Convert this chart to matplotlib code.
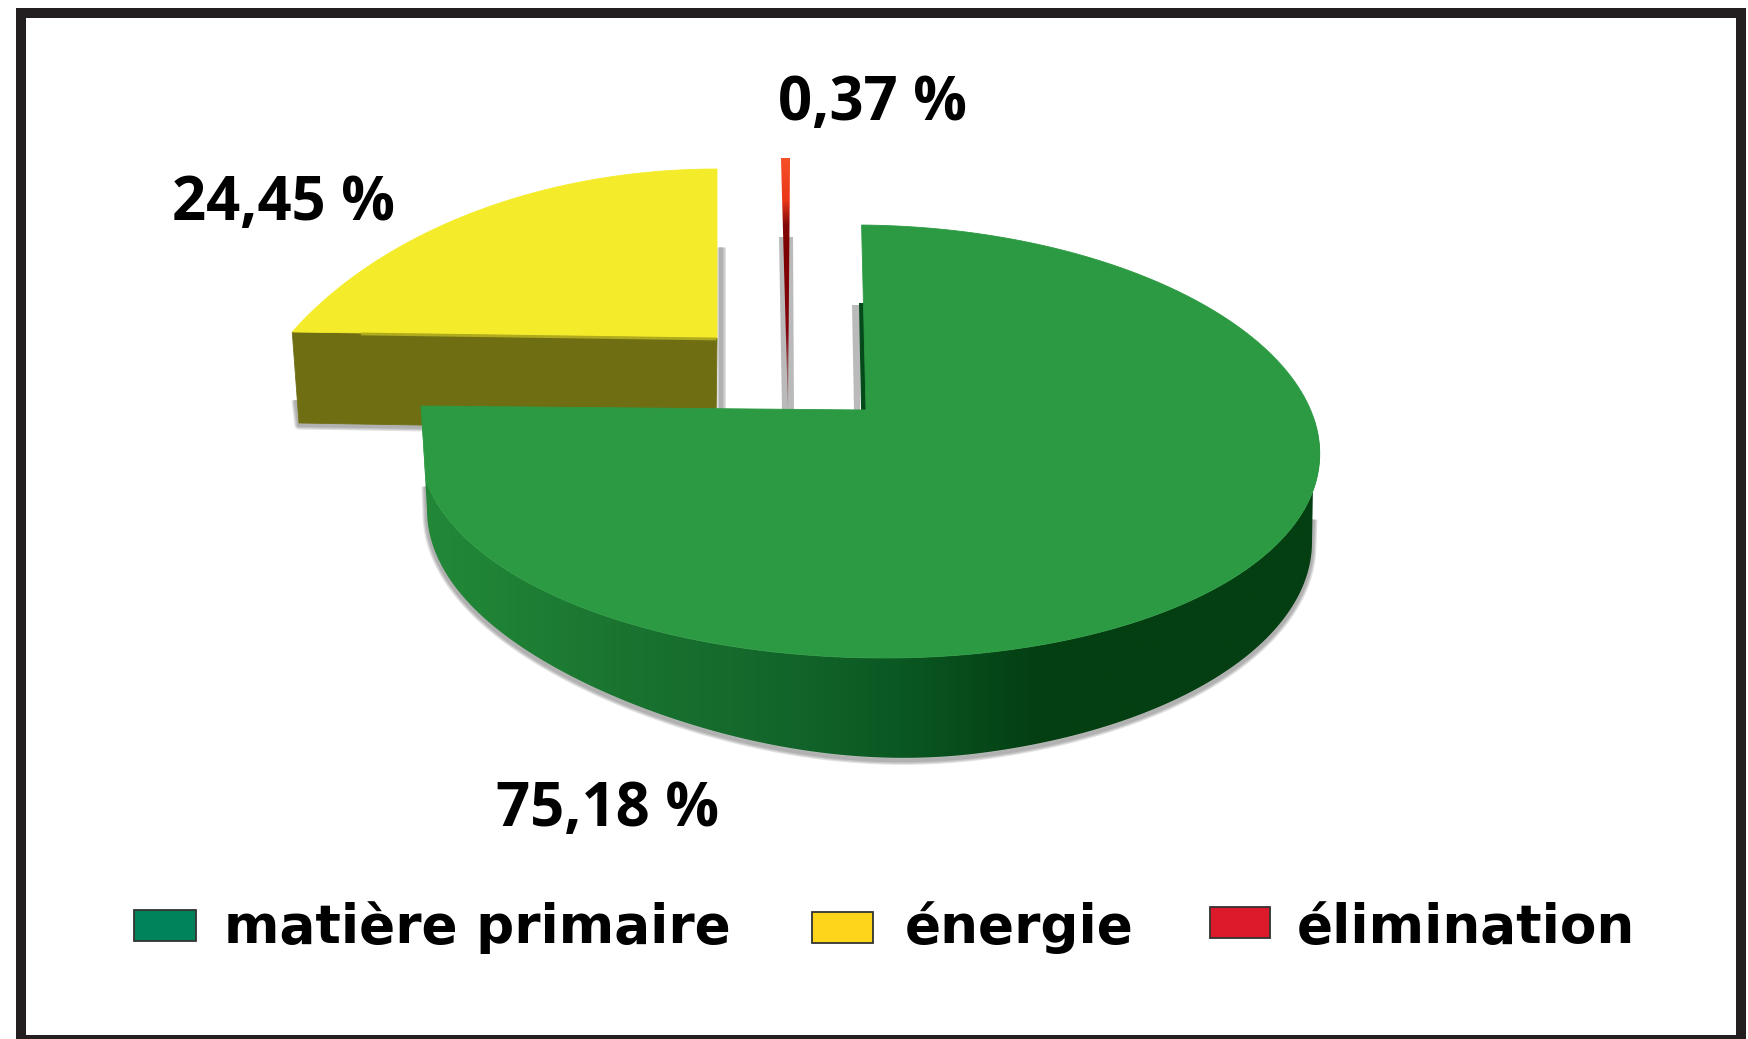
import numpy as np
import matplotlib
matplotlib.use("Agg")
import matplotlib.pyplot as plt
from matplotlib.patches import Polygon, Rectangle

categories = ["matière primaire", "énergie", "élimination"]
shares = [75.18, 24.45, 0.37]
share_labels = ["75,18 %", "24,45 %", "0,37 %"]
legend_colors = ["#00835B", "#FFD51C", "#DC1A2C"]

plt.rcParams["font.family"] = ["Open Sans", "DejaVu Sans"]
fig = plt.figure(figsize=(17.48, 10.39), dpi=100, facecolor="white")
ax = fig.add_axes([0, 0, 1, 1])
ax.set_axis_off()

spans = np.array(shares) / sum(shares) * 360
t_green = (0.0, spans[0])
t_yellow = (spans[0], spans[0] + spans[1])
t_red = (spans[0] + spans[1], 360.0)
APEX = np.array([866.0, 410.0])
CORNER = np.array([421.0, 406.0])


def phi_of(deg):
    # the apex sits above the ellipse centre, so the angles are stretched in perspective
    return np.interp(deg, [0, spans[0]], [0.9, 262.0])


def rim(deg):
    phi = np.radians(phi_of(deg))
    s, c = np.sin(phi), np.cos(phi)
    return np.column_stack([869.5 + 450 * s - 15 * c, 441.5 - 216.5 * c + 9 * s ** 2 - 4 * np.clip(s, 0, 1) ** 2])


def arc(a, b, n=240):
    return rim(np.linspace(a, b, n))


def gradient(poly, xs=None, ys=None, rgb=None, z=1):
    """Fill a clip polygon with a horizontal or vertical colour ramp."""
    if xs is not None:
        grid = np.linspace(xs[0], xs[-1], 512)
        img = np.stack([np.interp(grid, xs, rgb[:, k]) for k in range(rgb.shape[1])], -1)[None, :, :]
        ext = (xs[0], xs[-1], 1039, 0)
    else:
        grid = np.linspace(ys[0], ys[-1], 512)
        img = np.stack([np.interp(grid, ys, rgb[:, k]) for k in range(rgb.shape[1])], -1)[:, None, :]
        ext = (0, 1748, ys[-1], ys[0])
    im = ax.imshow(img / 255.0, extent=ext, aspect="auto", zorder=z, interpolation="bilinear")
    patch = Polygon(poly, closed=True, transform=ax.transData, fc="none", ec="none")
    ax.add_patch(patch)
    im.set_clip_path(patch)


def soft_line(pts, z, widths=(9, 6.5, 4), alpha=0.18, color="#555555"):
    for w in widths:
        ax.plot(pts[:, 0], pts[:, 1], color=color, lw=w * 0.72, alpha=alpha, zorder=z,
                solid_capstyle="butt", solid_joinstyle="round")


# ---- yellow sector (exploded, behind the green one)
ya = np.array([717.0, 338.0])
psi = np.radians(np.linspace(0, spans[1], 120) * 59.1 / spans[1])
yt = np.column_stack([717 - 495 * np.sin(psi), 169 + 335 * (1 - np.cos(psi))])
yl = yt[-1]
wall = np.array([yl, ya, [716, 430], [299, 423]])
soft_line(np.array([[721, 247], [721, 410]]), 1.5)
soft_line(np.array([[296, 400], [299, 425], [425, 427]]), 1.5)
ax.add_patch(Polygon(wall, closed=True, fc="#6F6E13", ec="#6F6E13", lw=0.6, zorder=2))
ax.add_patch(Polygon(np.vstack([[ya], yt]), closed=True, fc="#F4EC2A", ec="#F4EC2A", lw=0.6, zorder=3))
ax.plot([yl[0] + 70, ya[0] - 2], [yl[1] + 2, ya[1] + 1], color="#AFAA1E", lw=2, zorder=3)

# ---- red sliver (exploded)
ra = np.array([788.0, 410.0])
half = np.radians(t_red[1] - t_red[0]) / 2
tip = np.array([[785.5 - 390 * np.sin(half), 158], [785.5 + 390 * np.sin(half), 158]])
ax.add_patch(Polygon([[779, 237], [793, 237], [794, 410], [782, 410]], closed=True,
                     fc="#777777", ec="none", alpha=0.5, zorder=1.5))
gradient(np.array([tip[0], tip[1], ra]),
         ys=np.array([158, 200, 225, 250, 330, 370, 410.0]),
         rgb=np.array([[246, 80, 40], [235, 55, 25], [130, 10, 10], [125, 0, 0],
                       [130, 0, 10], [150, 90, 90], [165, 125, 125.0]]), z=4)

# ---- green sector: shadow, side wall, inner sliver and top
alpha_b = np.radians(np.linspace(90, 270, 300))
u = np.sin(alpha_b)
lift = 32 * np.sin(np.pi / 2 * np.clip((0.25 - u) / 1.25, 0, 1)) ** 2
bottom = np.column_stack([869.5 + 442.5 * u, 542 - 218 * np.cos(alpha_b) - lift])
shadow = np.vstack([[bottom[0, 0] + 1, 517], bottom, [bottom[-1, 0] - 1, 484]])
soft_line(shadow + [0, 2.5], 4.5)
upper = arc(85, t_green[1], 240)
side = np.vstack([upper, [CORNER], bottom[::-1]])
gradient(side, xs=np.array([420, 480, 620, 800, 900, 1037, 1320.0]),
         rgb=np.array([[34, 136, 56], [32, 132, 54], [26, 116, 48], [18, 100, 42],
                       [10, 88, 34], [4, 63, 19], [4, 63, 18.0]]), z=5)
ax.add_patch(Polygon([[852, 305], [860, 305], [860, 410], [854, 410]], closed=True,
                     fc="#777777", ec="none", alpha=0.5, zorder=4.5))
ax.add_patch(Polygon([[859, 303], [866, 303], [867, 411], [861, 411]], closed=True,
                     fc="#054A1A", ec="none", zorder=5))
top = np.vstack([[APEX], arc(*t_green), [CORNER]])
ax.add_patch(Polygon(top, closed=True, fc="#2C9A42", ec="#2C9A42", lw=0.6, zorder=6))

# ---- data labels
label_pos = [(496, 826), (172, 220), (778, 120)]
for text, (x, y) in zip(share_labels, label_pos):
    ax.text(x, y, text, fontsize=43, fontweight="bold", color="black",
            ha="left", va="baseline", zorder=8)

# ---- legend
boxes = [(134, 910, 62, 31), (812, 912, 61, 31), (1210, 907, 60, 31)]
text_x = [224, 905, 1297]
for name, col, (x, y, w, h), tx in zip(categories, legend_colors, boxes, text_x):
    ax.add_patch(Rectangle((x, y), w, h, fc=col, ec="#333333", lw=1.3, zorder=8))
    ax.text(tx, 943, name, fontsize=38.3, fontweight="bold", color="black",
            family="DejaVu Sans", ha="left", va="baseline", zorder=8)

# ---- frame
ax.add_patch(Rectangle((21, 13), 1720, 1027, fc="none", ec="#231F20", lw=7.2, zorder=9))

ax.set_xlim(0, 1748)
ax.set_ylim(1039, 0)
fig.savefig("out.png", dpi=100, facecolor="white")
